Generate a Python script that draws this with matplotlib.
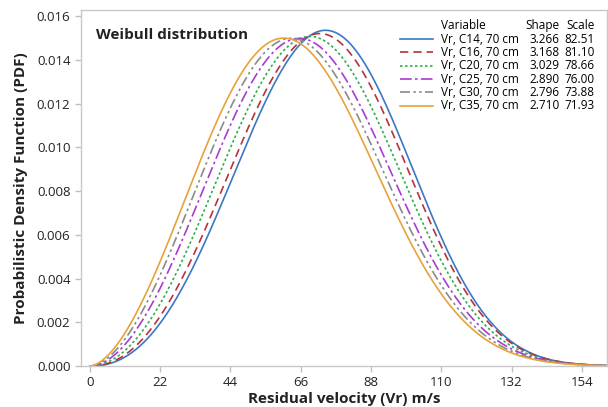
import numpy as np
import matplotlib.pyplot as plt

plt.rcParams['font.family'] = ['Open Sans', 'DejaVu Sans']

# Weibull fits
labels = ['Vr, C14, 70 cm', 'Vr, C16, 70 cm', 'Vr, C20, 70 cm',
          'Vr, C25, 70 cm', 'Vr, C30, 70 cm', 'Vr, C35, 70 cm']
shapes = [3.266, 3.168, 3.029, 2.890, 2.796, 2.710]
scales = [82.51, 81.10, 78.66, 76.00, 73.88, 71.93]

colors = ['#3a78c4', '#b8323a', '#2fae4a', '#a83cd0', '#8a8a8a', '#e8a23a']
styles = ['-', (0, (5, 3)), (0, (1.5, 1.5)), (0, (7, 2, 1.5, 2)),
          (0, (6, 2, 1.5, 2, 1.5, 2)), '-']

x = np.linspace(0, 162, 600)

fig = plt.figure(figsize=(6.08, 4.07), dpi=100)
ax = fig.add_axes([0.133, 0.1007, 0.865, 0.8747])

for lab, k, lam, c, ls in zip(labels, shapes, scales, colors, styles):
    pdf = (k / lam) * (x / lam) ** (k - 1) * np.exp(-(x / lam) ** k)
    ax.plot(x, pdf, color=c, linestyle=ls, linewidth=1.2, label=lab)

ax.set_xlim(-2.8, 161.8)
ax.set_ylim(0, 0.016274)
ax.set_xticks(np.arange(0, 155, 22))
ax.set_yticks(np.arange(0, 0.0161, 0.002))
ax.yaxis.set_major_formatter(plt.FormatStrFormatter('%.3f'))

for sp in ax.spines.values():
    sp.set_color('#c8c8c8')
    sp.set_linewidth(1.0)
ax.tick_params(colors='#c0c0c0', labelcolor='#222222', labelsize=9.5,
               length=4, width=1)

ax.set_xlabel('Residual velocity (Vr) m/s', fontsize=11, fontweight='bold',
              color='#222222', labelpad=2)
ax.set_ylabel('Probabilistic Density Function (PDF)', fontsize=11,
              fontweight='bold', color='#222222', labelpad=6)

ax.text(0.0285, 0.93, 'Weibull distribution', transform=ax.transAxes,
        fontsize=11, fontweight='bold', color='#222222', va='center')

# legend table
tr = ax.transAxes
ypos0 = 0.956
dy = 0.0375
fs = 8.5
ax.text(0.684, ypos0, 'Variable', transform=tr, fontsize=fs, va='center')
ax.text(0.911, ypos0, 'Shape', transform=tr, fontsize=fs, va='center', ha='right')
ax.text(0.977, ypos0, 'Scale', transform=tr, fontsize=fs, va='center', ha='right')
for i, (lab, k, lam, c, ls) in enumerate(zip(labels, shapes, scales, colors, styles)):
    yy = ypos0 - (i + 1) * dy
    ax.plot([0.6065, 0.669], [yy, yy], transform=tr, color=c, linestyle=ls,
            linewidth=1.2, clip_on=False)
    ax.text(0.684, yy, lab, transform=tr, fontsize=fs, va='center')
    ax.text(0.911, yy, '%.3f' % k, transform=tr, fontsize=fs, va='center', ha='right')
    ax.text(0.977, yy, '%.2f' % lam, transform=tr, fontsize=fs, va='center', ha='right')

fig.savefig('out.png', dpi=100)
